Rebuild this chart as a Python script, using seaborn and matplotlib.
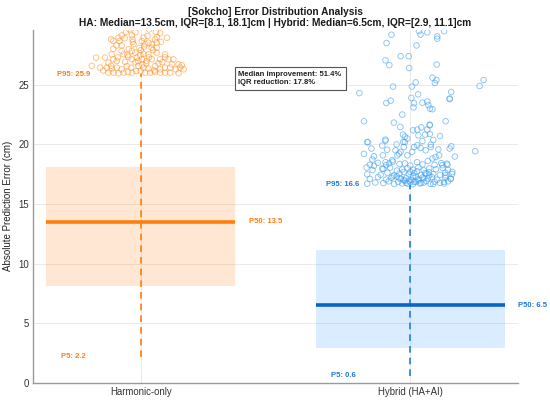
import numpy as np
import pandas as pd
import matplotlib
matplotlib.use("Agg")
import matplotlib.pyplot as plt
import seaborn as sns

# ---- data ----
categories = ["Harmonic-only", "Hybrid (HA+AI)"]
p5 = [2.2, 0.6]
q1 = [8.1, 2.9]
p50 = [13.5, 6.5]
q3 = [18.1, 11.1]
p95 = [25.9, 16.6]

ha_out_y = [29.65, 29.65, 29.43, 29.32, 29.43, 29.15, 29.15, 28.81, 28.95, 28.95,
            28.70, 28.67, 28.81, 28.67, 28.53, 28.53, 28.81, 28.03, 28.31, 28.40,
            28.40, 28.40, 28.12, 27.84, 27.84, 27.28, 27.56, 27.56, 27.70, 27.47,
            27.56, 27.70, 27.56, 27.36, 27.28, 26.58, 26.44, 26.86, 27.14, 27.00,
            26.92, 27.14, 27.28, 27.14, 27.00, 27.14, 27.14, 27.14, 27.14, 26.72,
            26.64, 26.44, 26.36, 26.44, 26.30, 26.58, 26.44, 26.58, 26.44, 26.36,
            26.58, 26.30, 26.44, 26.44, 26.44, 26.30, 26.02, 26.02, 25.97, 26.02,
            26.08, 26.02, 26.16, 26.16, 26.02, 26.02, 26.08, 26.02, 26.02, 26.02,
            25.97, 27.90, 27.60, 27.00, 26.80, 26.70, 26.90, 27.30, 28.10, 28.20,
            27.90, 28.00, 26.80, 27.30, 26.90, 26.60, 29.10, 29.40, 29.00, 28.90,
            26.70, 26.30, 26.20, 27.30, 27.50, 28.10, 28.60, 28.60, 28.30, 28.95,
            26.20]
ha_out_dx = [-0.043, 0.031, 0.056, 0.072, -0.055, -0.033, -0.071, -0.110, -0.083, 0.097,
             -0.102, -0.079, -0.031, 0.004, 0.028, 0.059, 0.053, -0.102, -0.071, -0.027,
             0.016, 0.041, 0.059, -0.033, -0.071, -0.133, -0.108, -0.064, -0.021, -0.002,
             0.028, 0.059, 0.090, -0.046, -0.166, -0.182, -0.151, -0.120, -0.102, -0.089,
             -0.058, -0.033, -0.015, 0.004, 0.022, 0.041, 0.072, 0.103, 0.121, 0.140,
             0.152, -0.126, -0.108, -0.089, -0.071, -0.052, -0.036, -0.009, 0.010, 0.028,
             0.053, 0.072, 0.090, 0.109, 0.146, 0.159, -0.120, -0.102, -0.083, -0.064,
             -0.048, -0.033, -0.017, 0.000, 0.016, 0.035, 0.053, 0.072, 0.090, 0.109,
             0.140, 0.000, 0.010, -0.010, 0.020, 0.005, -0.020, 0.030, -0.005, 0.012,
             0.045, -0.045, 0.065, -0.085, 0.080, -0.110, 0.025, -0.020, 0.060, -0.060,
             0.115, 0.130, -0.140, 0.090, -0.050, 0.040, -0.030, 0.075, -0.090, 0.010,
             0.050]

hy_out_y = [29.20, 29.50, 29.20, 29.40, 29.50, 29.06, 28.87, 28.50, 28.30, 27.40,
            27.40, 27.05, 26.65, 26.40, 26.70, 25.60, 25.40, 25.15, 25.20, 25.40,
            24.90, 24.85, 24.85, 24.30, 24.40, 23.85, 24.20, 23.90, 23.67, 23.47,
            23.45, 23.50, 23.60, 23.30, 23.00, 23.10, 22.95, 23.80, 22.50, 21.94,
            21.83, 21.46, 21.94, 21.60, 21.43, 21.24, 21.18, 21.24, 20.87, 20.76,
            20.82, 20.70, 20.82, 20.65, 20.49, 20.40, 20.20, 20.28, 20.37, 20.20,
            20.00, 19.98, 21.66, 20.17, 19.65, 19.20, 19.00, 18.73, 18.06, 18.20,
            19.90, 20.30, 19.55, 19.08, 18.50, 17.97, 18.40, 18.67, 19.50, 19.08,
            19.23, 19.37, 19.78, 20.20, 19.08, 19.37, 19.78, 19.92, 19.70, 19.50,
            19.78, 18.81, 18.94, 19.08, 19.58, 18.25, 18.30, 19.65, 19.84, 18.98,
            19.42, 17.69, 17.13, 17.41, 16.85,
            16.70, 16.80, 16.75, 16.90, 16.68, 16.85, 16.72, 16.95, 16.70, 16.82,
            16.66, 16.88, 16.74, 16.80, 16.92, 16.70, 16.86, 16.78, 16.72, 16.90,
            17.10, 17.25, 17.05, 17.20, 17.30, 17.12, 17.18, 17.02, 17.28, 17.08,
            17.22, 17.15, 17.26, 17.04, 17.20, 17.10,
            17.50, 17.45, 17.62, 17.40, 17.55, 17.68, 17.48, 17.60, 17.42, 17.58,
            17.66, 17.50, 17.44, 17.62, 17.52,
            17.85, 17.95, 18.05, 17.80, 17.90, 18.00, 17.88, 18.08, 17.82, 17.98,
            17.92, 18.02, 17.86,
            18.30, 18.45, 18.25, 18.55, 18.35, 18.40, 18.22, 18.50, 18.32, 18.60,
            18.28, 18.42, 18.38,
            16.95, 17.35, 17.75, 16.75, 17.15, 17.55, 16.85, 17.00, 17.40, 16.68,
            17.32, 16.98, 17.70, 16.78, 17.14]
hy_out_dx = [-0.070, 0.032, 0.038, 0.063, 0.125, 0.100, 0.100, -0.088, 0.023, -0.036,
             -0.006, -0.092, -0.078, -0.004, 0.098, 0.082, 0.097, 0.091, 0.020, 0.272,
             0.257, -0.064, 0.006, -0.189, 0.152, 0.146, 0.029, 0.004, -0.073, -0.089,
             0.014, 0.045, 0.063, 0.067, 0.073, 0.012, 0.082, 0.146, -0.030, -0.172,
             -0.061, -0.037, 0.131, 0.072, 0.041, 0.026, 0.010, 0.063, 0.072, 0.030,
             0.055, 0.110, -0.027, -0.020, -0.011, -0.092, -0.160, 0.045, 0.085, -0.026,
             -0.051, 0.076, 0.072, -0.157, -0.144, -0.172, -0.135, -0.141, -0.162, -0.135,
             -0.104, -0.092, -0.086, -0.102, -0.092, -0.104, -0.079, -0.067, -0.055, -0.048,
             -0.042, -0.036, -0.024, -0.020, -0.011, 0.007, 0.014, 0.026, 0.038, 0.057,
             0.076, 0.082, 0.094, 0.107, 0.104, 0.119, 0.138, 0.146, 0.152, 0.165,
             0.241, 0.156, 0.150, 0.131, 0.125,
             -0.160, -0.130, -0.100, -0.080, -0.060, -0.045, -0.030, -0.020, -0.010, 0.000,
             0.010, 0.020, 0.035, 0.050, 0.060, 0.075, 0.090, 0.110, 0.125, 0.140,
             -0.150, -0.120, -0.090, -0.070, -0.050, -0.035, -0.015, 0.005, 0.020, 0.030,
             0.045, 0.065, 0.080, 0.100, 0.130, 0.150,
             -0.160, -0.110, -0.085, -0.060, -0.040, -0.025, -0.005, 0.015, 0.040, 0.055,
             0.070, 0.085, 0.110, 0.130, 0.155,
             -0.140, -0.100, -0.075, -0.050, -0.030, -0.010, 0.010, 0.030, 0.050, 0.070,
             0.095, 0.120, 0.140,
             -0.150, -0.120, -0.090, -0.065, -0.040, -0.020, 0.000, 0.025, 0.045, 0.065,
             0.090, 0.115, 0.135,
             -0.005, 0.010, 0.025, 0.040, -0.040, 0.060, 0.015, -0.025, 0.070, 0.085,
             -0.065, 0.030, 0.000, -0.015, 0.050]

median_improvement = 51.4
iqr_reduction = 17.8

# ---- styling ----
sns.set_theme(style="white")
plt.rcParams["font.family"] = ["Liberation Sans", "DejaVu Sans"]

line_colors = ["#ff7f0e", "#0a64c8"]
dash_colors = ["#ff7f0e", "#1f7fe0"]
fill_colors = ["#ff7f0e", "#3399ff"]
pt_colors = ["#ff8c1a", "#3a9ef0"]
txt_colors = ["#ff7f0e", "#1f78d8"]

fig = plt.figure(figsize=(5.5, 4.05), dpi=100)
ax = fig.add_axes([0.06, 0.055, 0.882, 0.871])

pos = [1, 2]
hw = 0.35
for i, p in enumerate(pos):
    ax.fill_between([p - hw, p + hw], q1[i], q3[i], color=fill_colors[i], alpha=0.18, lw=0, zorder=1)
    ax.plot([p - hw, p + hw], [p50[i], p50[i]], color=line_colors[i], lw=2.6, zorder=3, solid_capstyle="butt")
    ax.plot([p, p], [p5[i], p95[i]], color=dash_colors[i], lw=1.2, ls=(0, (4, 3)), zorder=2)
    ax.text(p + hw + 0.05, p50[i], f"P50: {p50[i]}", color=txt_colors[i], fontsize=5.5,
            fontweight="bold", ha="left", va="center")
    ax.text(p - 0.25, p95[i], f"P95: {p95[i]}", color=txt_colors[i], fontsize=5.5,
            fontweight="bold", ha="center", va="center")
    ax.text(p - 0.25, p5[i], f"P5: {p5[i]}", color=txt_colors[i], fontsize=5.5,
            fontweight="bold", ha="center", va="center")

df_ha = pd.DataFrame({"x": 1 + np.array(ha_out_dx), "y": ha_out_y})
df_hy = pd.DataFrame({"x": 2 + np.array(hy_out_dx), "y": hy_out_y})
sns.scatterplot(data=df_ha, x="x", y="y", ax=ax, s=16, facecolor="none",
                edgecolor=pt_colors[0], linewidth=0.65, alpha=0.55, zorder=4)
sns.scatterplot(data=df_hy, x="x", y="y", ax=ax, s=16, facecolor="none",
                edgecolor=pt_colors[1], linewidth=0.65, alpha=0.6, zorder=4)

ax.text(0.53, 0.885, f"Median improvement: {median_improvement}%\nIQR reduction: {iqr_reduction}%",
        transform=ax.transAxes, ha="center", va="top", multialignment="left",
        fontsize=5.5, fontweight="bold", color="#222222", linespacing=1.35,
        bbox=dict(boxstyle="square,pad=0.5", facecolor="white", edgecolor="#555555", lw=0.8))

ax.set_xlim(0.6, 2.4)
ax.set_ylim(0, 29.6)
ax.set_xticks(pos)
ax.set_xticklabels(categories)
ax.set_yticks([0, 5, 10, 15, 20, 25])
ax.set_xlabel("")
ax.set_ylabel("Absolute Prediction Error (cm)", fontsize=7, color="#222222")
ax.tick_params(axis="both", labelsize=6.9, colors="#333333", length=2.5, width=0.6,
               direction="in", pad=3)
ax.grid(True, color="#e6e6e6", lw=0.6)
ax.set_axisbelow(True)
for s in ["top", "right"]:
    ax.spines[s].set_visible(False)
for s in ["left", "bottom"]:
    ax.spines[s].set_color("#9a9a9a")
    ax.spines[s].set_linewidth(1.0)

ax.set_title("[Sokcho] Error Distribution Analysis\n"
             "HA: Median=13.5cm, IQR=[8.1, 18.1]cm | Hybrid: Median=6.5cm, IQR=[2.9, 11.1]cm",
             fontsize=7.3, fontweight="bold", color="#1a1a1a", pad=2.5, linespacing=1.2)

fig.savefig("out.png", dpi=100)
